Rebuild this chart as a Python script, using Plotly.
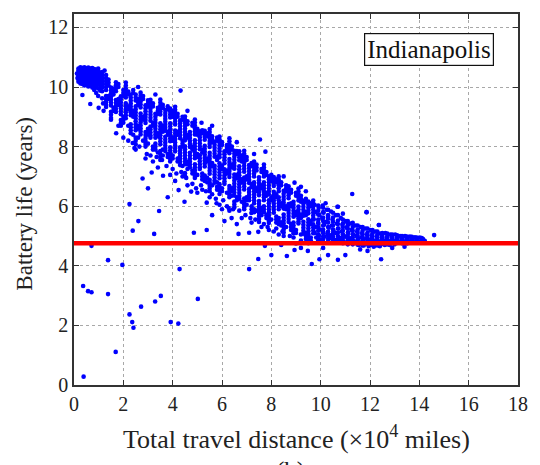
import plotly.graph_objects as go

# Battery life vs. total travel distance, Indianapolis fleet.
# Main band: near-vertical columns of vehicles; each entry of column_y
# holds the battery-life values observed at the distance in column_x.
column_x = [
    0.18, 0.26, 0.34, 0.42, 0.50, 0.58, 0.66, 0.74, 0.82, 0.90, 0.98, 1.06, 1.14,
    1.30, 1.50, 1.70, 1.90, 2.10, 2.30, 2.50, 2.70, 2.90, 3.10, 3.30, 3.50, 3.70, 3.90,
    4.10, 4.30, 4.50, 4.70, 4.90, 5.10, 5.30, 5.50, 5.70, 5.90, 6.10, 6.30, 6.50, 6.70,
    6.90, 7.10, 7.30, 7.50, 7.70, 7.90, 8.10, 8.30, 8.50, 8.70, 8.90, 9.10, 9.30, 9.50,
    9.70, 9.90, 10.10, 10.30, 10.50, 10.70, 10.90, 11.10, 11.30, 11.50, 11.70, 11.90,
    12.10, 12.30, 12.50, 12.70, 12.90, 13.10, 13.30, 13.50, 13.70, 13.90, 14.10,
]
column_y = [
    [10.62, 10.55, 10.48, 10.40, 10.33, 10.25, 10.18],
    [10.66, 10.58, 10.50, 10.43, 10.35, 10.28, 10.20, 10.12],
    [10.64, 10.57, 10.49, 10.41, 10.34, 10.26, 10.18, 10.10, 9.73],
    [10.66, 10.59, 10.52, 10.44, 10.37, 10.29, 10.21, 10.13, 10.05],
    [10.63, 10.56, 10.48, 10.40, 10.33, 10.25, 10.17, 10.09],
    [10.65, 10.58, 10.50, 10.43, 10.35, 10.27, 10.19, 10.11, 10.02],
    [10.62, 10.54, 10.47, 10.39, 10.31, 10.23, 10.15, 10.06, 9.43],
    [10.64, 10.56, 10.49, 10.41, 10.33, 10.25, 10.17, 10.08, 9.98],
    [10.60, 10.52, 10.45, 10.37, 10.29, 10.21, 10.12, 10.04, 9.90],
    [10.58, 10.50, 10.42, 10.34, 10.26, 10.18, 10.09, 9.99, 9.80],
    [10.62, 10.55, 10.46, 10.38, 10.30, 10.21, 10.12, 9.95, 9.70],
    [10.48, 10.40, 10.32, 10.24, 10.15, 10.06, 9.97, 9.88],
    [10.50, 10.42, 10.33, 10.25, 10.16, 10.07, 9.98, 9.86, 9.62],
    [10.40, 10.30, 10.20, 10.10, 10.00, 9.90, 9.70, 9.60, 9.50, 9.41, 9.33],
    [9.98, 9.88, 9.78, 9.68, 9.58, 9.48, 9.38, 9.17, 9.07, 8.96],
    [10.16, 10.06, 9.96, 9.86, 9.56, 9.46, 9.36, 9.26, 9.16],
    [9.69, 9.59, 9.49, 9.39, 9.29, 9.19, 9.09, 8.89, 8.79, 8.70],
    [10.15, 10.05, 9.95, 9.85, 9.75, 9.65, 9.45, 9.35, 9.25, 9.15, 9.05, 8.95],
    [9.75, 9.65, 9.55, 9.45, 9.35, 9.25, 9.15, 9.05, 8.75, 8.65, 8.55, 8.45],
    [9.75, 9.65, 9.55, 9.35, 9.25, 9.15, 9.05, 8.95, 8.85, 8.75, 8.65, 8.55, 8.30, 8.20, 8.08],
    [9.81, 9.71, 9.61, 9.51, 9.41, 9.31, 9.11, 9.01, 8.91, 8.81, 8.71, 8.61, 8.51, 8.41],
    [9.39, 9.29, 9.19, 9.09, 8.99, 8.89, 8.79, 8.49, 8.39, 8.29, 8.19, 8.09, 8.00],
    [9.57, 9.47, 9.37, 9.27, 9.17, 9.07, 8.97, 8.87, 8.67, 8.57, 8.47, 8.37, 8.30],
    [9.10, 9.00, 8.90, 8.80, 8.70, 8.60, 8.50, 8.40, 8.30, 8.10, 8.00, 7.90],
    [9.58, 9.48, 9.38, 9.28, 9.18, 9.08, 8.78, 8.68, 8.58, 8.48, 8.38, 8.28, 8.18, 8.08,
     7.85, 7.75, 7.65, 7.55],
    [9.23, 9.13, 9.03, 8.93, 8.83, 8.73, 8.63, 8.53, 8.33, 8.23, 8.13, 8.03, 7.93, 7.85],
    [9.28, 9.18, 9.08, 8.98, 8.78, 8.68, 8.58, 8.48, 8.38, 8.28, 8.18, 7.98, 7.88, 7.78,
     7.68, 7.58, 7.50],
    [9.34, 9.24, 9.14, 9.04, 8.94, 8.84, 8.74, 8.54, 8.44, 8.34, 8.24, 8.14, 8.04, 7.94, 7.84],
    [8.88, 8.78, 8.68, 8.58, 8.48, 8.38, 8.28, 7.98, 7.88, 7.78, 7.68, 7.58, 7.48, 7.38],
    [9.01, 8.91, 8.81, 8.71, 8.61, 8.51, 8.41, 8.31, 8.21, 8.01, 7.91, 7.81, 7.71, 7.61,
     7.51, 7.41, 7.11, 7.01],
    [8.49, 8.39, 8.29, 8.19, 8.09, 7.99, 7.79, 7.69, 7.59, 7.49, 7.39, 7.30],
    [8.91, 8.81, 8.71, 8.61, 8.51, 8.41, 8.21, 8.11, 8.01, 7.91, 7.81, 7.71, 7.61, 7.41,
     7.31, 7.21, 7.11, 7.01, 6.95],
    [8.51, 8.41, 8.31, 8.21, 8.11, 8.01, 7.91, 7.71, 7.61, 7.51, 7.41, 7.31, 7.25],
    [8.53, 8.43, 8.33, 8.23, 8.03, 7.93, 7.83, 7.73, 7.63, 7.53, 7.43, 7.33, 7.03, 6.93, 6.85],
    [8.59, 8.49, 8.39, 8.29, 8.19, 8.09, 7.99, 7.79, 7.69, 7.59, 7.49, 7.39, 7.29, 7.19,
     7.09, 6.89, 6.79, 6.69, 6.59, 6.50],
    [8.16, 8.06, 7.96, 7.86, 7.76, 7.66, 7.36, 7.26, 7.16, 7.06, 6.96, 6.86, 6.79],
    [8.34, 8.24, 8.14, 8.04, 7.94, 7.84, 7.74, 7.64, 7.44, 7.34, 7.24, 7.14, 7.04, 6.94,
     6.74, 6.64, 6.54, 6.41],
    [7.84, 7.74, 7.64, 7.54, 7.44, 7.24, 7.14, 7.04, 6.94, 6.84, 6.75],
    [8.28, 8.18, 8.08, 7.98, 7.88, 7.78, 7.58, 7.48, 7.38, 7.28, 7.18, 7.08, 6.98, 6.68,
     6.58, 6.48, 6.38, 6.30],
    [7.86, 7.76, 7.66, 7.56, 7.46, 7.36, 7.26, 7.06, 6.96, 6.86, 6.76, 6.66, 6.56, 6.46,
     6.36, 6.16, 6.06, 5.96],
    [7.84, 7.74, 7.64, 7.54, 7.34, 7.24, 7.14, 7.04, 6.94, 6.84, 6.74, 6.64, 6.54, 6.44,
     6.34, 6.25],
    [7.86, 7.76, 7.66, 7.56, 7.46, 7.36, 7.26, 7.16, 6.96, 6.86, 6.76, 6.66, 6.56, 6.26,
     6.16, 6.06, 5.96, 5.90],
    [7.38, 7.28, 7.18, 7.08, 6.98, 6.88, 6.78, 6.58, 6.48, 6.38, 6.28, 6.20],
    [7.50, 7.40, 7.30, 7.20, 7.10, 7.00, 6.80, 6.70, 6.60, 6.50, 6.40, 6.30, 6.20, 6.10,
     5.90, 5.80],
    [6.97, 6.87, 6.77, 6.67, 6.57, 6.47, 6.37, 6.17, 6.07, 5.97, 5.87, 5.77, 5.67, 5.57, 5.47],
    [7.40, 7.30, 7.20, 7.10, 7.00, 6.80, 6.70, 6.60, 6.50, 6.40, 6.30, 6.20, 6.00, 5.90, 5.80],
    [7.00, 6.90, 6.80, 6.70, 6.60, 6.50, 6.40, 6.20, 6.10, 6.00, 5.90, 5.80, 5.70, 5.60,
     5.50, 5.44],
    [6.98, 6.88, 6.78, 6.68, 6.48, 6.38, 6.28, 6.18, 6.08, 5.98, 5.88, 5.78],
    [7.00, 6.90, 6.80, 6.70, 6.60, 6.50, 6.30, 6.20, 6.10, 6.00, 5.90, 5.60, 5.50, 5.40],
    [6.52, 6.42, 6.32, 6.22, 6.12, 6.02, 5.92, 5.72, 5.62, 5.52, 5.42, 5.32, 5.22, 5.12],
    [6.67, 6.57, 6.47, 6.37, 6.27, 6.07, 5.97, 5.87, 5.77, 5.67, 5.57, 5.47],
    [6.15, 6.05, 5.95, 5.85, 5.75, 5.65, 5.45, 5.35, 5.25, 5.15, 5.09],
    [6.59, 6.49, 6.39, 6.29, 6.19, 5.99, 5.89, 5.79, 5.69, 5.59, 5.49, 5.42],
    [6.18, 6.08, 5.98, 5.88, 5.78, 5.68, 5.48, 5.38, 5.28, 5.18, 5.08],
    [6.16, 6.06, 5.96, 5.86, 5.76, 5.56, 5.46, 5.36, 5.26, 5.16, 5.06, 4.96, 4.86, 4.76],
    [6.19, 6.09, 5.99, 5.89, 5.79, 5.69, 5.59, 5.39, 5.29, 5.19, 5.09],
    [6.02, 5.85, 5.72, 5.55, 5.42, 5.30, 5.18, 5.05, 4.93, 4.85],
    [5.95, 5.80, 5.62, 5.50, 5.35, 5.22, 5.10, 4.98, 4.88],
    [5.88, 5.70, 5.58, 5.45, 5.30, 5.15, 5.03, 4.92, 4.82],
    [5.78, 5.62, 5.48, 5.35, 5.22, 5.10, 4.98, 4.88, 4.80],
    [5.98, 5.70, 5.52, 5.40, 5.25, 5.12, 5.00, 4.90, 4.81],
    [5.55, 5.42, 5.30, 5.18, 5.06, 4.95, 4.85, 4.76],
    [5.50, 5.36, 5.24, 5.12, 5.00, 4.90, 4.80, 4.72],
    [5.44, 5.30, 5.18, 5.06, 4.95, 4.85, 4.76],
    [5.35, 5.22, 5.10, 5.00, 4.90, 4.80, 4.71],
    [5.30, 5.18, 5.06, 4.96, 4.86, 4.77, 4.68],
    [5.25, 5.12, 5.02, 4.92, 4.82, 4.73],
    [5.20, 5.08, 4.98, 4.88, 4.79, 4.70],
    [5.15, 5.05, 4.95, 4.85, 4.76, 4.68],
    [5.10, 5.00, 4.91, 4.82, 4.74],
    [5.08, 4.98, 4.88, 4.80, 4.72],
    [5.05, 4.95, 4.86, 4.78],
    [5.02, 4.93, 4.85, 4.77],
    [5.00, 4.91, 4.83, 4.76],
    [4.98, 4.90, 4.82, 4.76],
    [4.97, 4.89, 4.81],
    [4.95, 4.87, 4.80],
    [4.93, 4.85],
]

# Shorter runs of vehicles lying between the main columns
between_x = [
    1.40, 1.60, 1.80, 2.00, 2.20, 2.40, 2.60, 2.80, 3.00, 3.20, 3.40, 3.60, 3.80, 4.00,
    4.20, 4.40, 4.60, 4.80, 5.00, 5.20, 5.40, 5.60, 5.80, 6.00, 6.20, 6.40, 6.60, 6.80,
    7.00, 7.20, 7.40, 7.60, 7.80, 8.00, 8.20, 8.40, 8.60, 8.80, 9.00, 9.20, 9.40, 9.60,
]
between_y = [
    [10.25, 10.15, 10.05, 9.70, 9.60],
    [9.95, 9.85, 9.75, 9.30, 9.20],
    [10.10, 10.00, 9.60, 9.50, 9.40],
    [9.90, 9.80, 9.70, 9.00, 8.90, 8.80],
    [9.85, 9.75, 9.35, 9.25, 8.70],
    [9.90, 9.80, 9.20, 9.10, 9.00, 8.40],
    [9.60, 9.50, 9.40, 8.70, 8.60, 8.30],
    [9.70, 9.60, 9.00, 8.90, 8.20],
    [9.55, 9.45, 9.35, 8.60, 8.50, 8.40, 8.10],
    [9.45, 9.35, 8.80, 8.70, 8.00, 7.90],
    [9.30, 9.20, 9.10, 8.45, 8.35, 7.80],
    [9.40, 9.30, 8.70, 8.60, 8.50, 7.90, 7.70],
    [9.35, 9.25, 8.50, 8.40, 7.75, 7.65],
    [9.20, 9.10, 9.00, 8.30, 8.20, 7.70, 7.60],
    [9.10, 9.00, 8.50, 8.40, 7.60, 7.50],
    [9.00, 8.90, 8.20, 8.10, 8.00, 7.35],
    [8.85, 8.75, 8.40, 8.30, 7.50, 7.40, 7.25],
    [8.80, 8.70, 8.00, 7.90, 7.20, 7.10],
    [8.60, 8.50, 8.40, 7.75, 7.65, 7.05],
    [8.55, 8.45, 7.90, 7.80, 7.10, 7.00, 6.90],
    [8.45, 8.35, 7.60, 7.50, 6.95, 6.80],
    [8.35, 8.25, 8.15, 7.45, 7.35, 6.70],
    [8.30, 8.20, 7.65, 7.55, 6.80, 6.65, 6.55],
    [8.15, 8.05, 7.35, 7.25, 6.60, 6.50],
    [8.05, 7.95, 7.85, 7.20, 7.10, 6.45],
    [8.00, 7.90, 7.40, 7.30, 6.60, 6.50, 6.35],
    [7.85, 7.75, 7.05, 6.95, 6.30, 6.20],
    [7.70, 7.60, 7.50, 6.90, 6.80, 6.15],
    [7.65, 7.55, 7.00, 6.90, 6.30, 6.20, 6.05],
    [7.45, 7.35, 6.75, 6.65, 6.00, 5.90],
    [7.40, 7.30, 7.20, 6.60, 6.50, 5.85],
    [7.25, 7.15, 6.70, 6.60, 5.95, 5.85, 5.70],
    [7.15, 7.05, 6.45, 6.35, 5.70, 5.60],
    [7.05, 6.95, 6.85, 6.30, 6.20, 5.55],
    [6.90, 6.80, 6.40, 6.30, 5.65, 5.55, 5.45],
    [6.80, 6.70, 6.10, 6.00, 5.45, 5.35],
    [6.70, 6.60, 6.50, 6.00, 5.90, 5.30],
    [6.55, 6.45, 6.10, 6.00, 5.40, 5.30, 5.20],
    [6.45, 6.35, 5.80, 5.70, 5.20, 5.10],
    [6.35, 6.25, 6.15, 5.70, 5.60, 5.05],
    [6.25, 6.15, 5.80, 5.70, 5.10, 5.00, 4.90],
    [6.10, 6.00, 5.50, 5.40, 4.95, 4.85],
]

# Long-distance vehicles levelling off towards the replacement threshold
tail_x = [
    9.75, 9.78, 9.72, 9.80, 9.76, 9.82, 9.92, 9.95, 9.90, 9.97, 9.93, 9.99,
    10.08, 10.12, 10.06, 10.14, 10.10, 10.16, 10.05, 10.25, 10.30, 10.22, 10.33, 10.27, 10.36,
    10.42, 10.48, 10.45, 10.52, 10.40, 10.55, 10.50, 10.62, 10.68, 10.66, 10.72, 10.60, 10.75, 10.70,
    10.82, 10.88, 10.85, 10.92, 10.80, 10.95, 11.02, 11.08, 11.05, 11.12, 11.00, 11.15, 11.10,
    11.22, 11.28, 11.25, 11.32, 11.20, 11.35, 11.30, 11.42, 11.48, 11.45, 11.52, 11.40, 11.55,
    11.62, 11.68, 11.65, 11.72, 11.60, 11.75, 11.86, 11.82, 11.88, 11.85, 11.92, 11.80, 11.95,
    12.02, 12.08, 12.05, 12.12, 12.00, 12.15, 12.22, 12.28, 12.25, 12.32, 12.20,
    12.36, 12.42, 12.48, 12.45, 12.52, 12.40, 12.62, 12.68, 12.65, 12.72, 12.60,
    12.82, 12.88, 12.85, 12.92, 12.80, 13.02, 13.08, 13.05, 13.12, 13.00,
    13.22, 13.28, 13.25, 13.32, 13.42, 13.48, 13.45, 13.52, 13.62, 13.68, 13.65, 13.72,
    13.82, 13.88, 13.85, 14.02, 14.08, 14.05, 14.15, 14.22, 14.60,
]
tail_y = [
    6.05, 5.80, 5.55, 5.30, 5.10, 4.95, 5.95, 5.70, 5.45, 5.22, 5.02, 4.88,
    6.02, 5.78, 5.60, 5.38, 5.15, 4.98, 4.85, 5.88, 5.65, 5.48, 5.28, 5.08, 4.92,
    5.82, 5.55, 5.35, 5.18, 5.02, 4.88, 4.80, 5.70, 5.98, 5.42, 5.25, 5.10, 4.95, 4.84,
    5.60, 5.38, 5.15, 5.02, 4.90, 4.80, 5.50, 5.45, 5.28, 5.10, 4.98, 4.88, 4.76,
    5.42, 6.41, 5.20, 5.05, 4.92, 4.82, 4.72, 5.35, 5.15, 5.00, 4.90, 4.80, 4.70,
    5.30, 5.10, 4.96, 4.86, 4.76, 4.68, 5.80, 5.25, 5.05, 4.92, 4.82, 4.74, 4.66,
    5.20, 5.02, 4.90, 4.80, 4.72, 4.64, 5.15, 4.98, 4.86, 4.76, 4.68,
    5.37, 5.08, 4.95, 4.84, 4.74, 4.66, 5.10, 4.96, 4.86, 4.78, 4.70,
    5.05, 4.94, 4.84, 4.76, 4.70, 5.05, 4.92, 4.84, 4.78, 4.72,
    5.00, 4.92, 4.82, 4.76, 5.00, 4.90, 4.82, 4.76, 4.98, 4.90, 4.82, 4.78,
    4.96, 4.88, 4.80, 4.95, 4.86, 4.80, 4.90, 4.84, 5.03,
]

# Vehicles scattered just below and above the main band
fringe_x = [
    1.80, 2.20, 2.45, 2.65, 2.95, 3.20, 3.35, 3.75, 4.00, 4.15, 4.35, 4.55, 4.80, 4.95,
    5.15, 5.35, 5.60, 5.75, 6.05, 6.20, 6.45, 6.70, 6.95, 7.15, 7.35, 7.70, 7.85, 8.20,
    8.45, 8.75, 3.00, 3.80, 5.60, 6.10,
    2.60, 3.30, 4.60, 5.60, 6.60, 7.30, 8.50, 9.40, 10.20, 10.90,
]
fringe_y = [
    8.70, 8.20, 7.95, 8.00, 7.75, 7.50, 7.65, 7.35, 7.25, 7.10, 7.15, 6.95, 6.75, 6.60,
    6.70, 6.50, 6.40, 6.25, 6.20, 6.00, 5.90, 5.85, 5.70, 5.60, 5.55, 5.40, 5.30, 5.25,
    5.15, 5.00, 6.60, 6.30, 5.70, 5.50,
    10.00, 9.75, 9.20, 8.70, 8.15, 7.75, 7.00, 6.50, 6.10, 5.75,
]

# Isolated vehicles away from the main trend
stray_x = [
    0.37, 0.57, 0.71, 0.71, 1.38, 1.38, 1.96, 1.69, 0.39, 2.25, 2.36, 2.41, 2.72, 3.29,
    3.52, 3.92, 4.23, 4.28, 5.02, 7.10, 7.47, 2.38, 3.25, 4.86, 5.38, 6.67, 7.10, 7.47,
    7.74, 2.25, 3.45, 2.61, 2.78, 3.15, 3.61, 4.24, 4.48, 4.75, 5.38, 5.78, 1.71, 2.38,
    3.57, 6.39, 6.27, 7.19, 4.32, 5.17, 7.54, 7.76, 8.94, 9.20, 11.86, 12.36,
    2.90, 3.40, 3.90, 4.10, 4.60, 5.00, 5.50, 5.90, 6.30, 6.80, 7.20, 7.60, 8.10, 8.50,
    8.90, 9.20, 2.00, 1.50, 1.20, 1.00, 6.00, 6.60, 7.90, 8.30, 5.20, 4.40, 3.10, 2.50,
    8.00, 8.63, 8.94, 9.48, 9.64, 9.95, 10.30, 10.70, 11.00, 12.45, 9.20, 11.60, 12.90,
    13.40, 10.10, 11.90, 8.40, 9.00, 0.12, 0.14, 1.24, 1.18,
]
stray_y = [
    3.32, 3.15, 3.11, 4.67, 4.19, 3.05, 4.03, 1.11, 0.28, 2.37, 2.11, 1.92, 2.63, 2.80,
    2.99, 2.11, 2.06, 3.89, 2.89, 3.89, 4.23, 5.18, 5.07, 5.11, 5.20, 5.07, 5.11, 5.14,
    4.67, 6.07, 5.84, 5.50, 6.93, 7.13, 7.02, 6.54, 6.15, 6.49, 6.12, 6.10, 8.45, 8.12,
    7.55, 5.60, 5.94, 5.77, 9.88, 8.80, 8.24, 7.83, 6.79, 6.65, 5.80, 5.37,
    7.60, 7.30, 7.05, 6.85, 6.70, 6.45, 6.30, 6.05, 5.85, 5.60, 5.45, 5.30, 5.15, 5.00,
    4.95, 4.85, 8.30, 8.90, 9.20, 9.30, 5.90, 5.40, 5.20, 5.05, 6.55, 7.00, 7.70, 7.90,
    4.36, 4.33, 4.53, 4.50, 4.06, 4.22, 4.36, 4.20, 4.36, 4.22, 4.60, 4.55, 4.60,
    4.64, 4.60, 4.50, 4.70, 4.75, 10.45, 10.30, 10.55, 9.45,
]

# End-of-life threshold (years)
threshold_life = 4.76

x_ticks = [0, 2, 4, 6, 8, 10, 12, 14, 16, 18]
y_ticks = [0, 2, 4, 6, 8, 10, 12]
city_label = "Indianapolis"

SERIF = "Liberation Serif"

# Flatten the column data into point lists
dist = []
life = []
for cols_x, cols_y in ((column_x, column_y), (between_x, between_y)):
    for cx, ys in zip(cols_x, cols_y):
        for yv in ys:
            dist.append(cx)
            life.append(yv)
dist += tail_x + fringe_x + stray_x
life += tail_y + fringe_y + stray_y

fig = go.Figure()
fig.add_trace(go.Scatter(
    x=dist, y=life, mode="markers",
    marker=dict(color="#0000ff", size=4.6, line=dict(width=0)),
    hoverinfo="x+y", showlegend=False,
))

fig.add_shape(
    type="line", xref="paper", x0=0, x1=1, yref="y",
    y0=threshold_life, y1=threshold_life,
    line=dict(color="#ff0000", width=4.5), layer="above",
)

axis_common = dict(
    showline=True, linecolor="#333333", linewidth=1.5, mirror="ticks",
    ticks="inside", ticklen=5, tickwidth=1, tickcolor="#333333",
    showgrid=True, gridcolor="#a8a8a8", gridwidth=1, griddash="dot",
    zeroline=False,
    tickfont=dict(family=SERIF, size=20, color="#222222"),
)

fig.update_xaxes(range=[0, 18], tickvals=x_ticks, **axis_common)
fig.update_yaxes(range=[0, 12.45], tickvals=y_ticks, **axis_common)

fig.add_annotation(
    xref="paper", yref="paper", x=0.5, y=-0.1425, yanchor="middle",
    text="Total travel distance (×10<sup>4</sup> miles)", showarrow=False,
    font=dict(family=SERIF, size=26, color="#222222"),
)
fig.add_annotation(
    xref="paper", yref="paper", x=-0.1116, y=0.49, xanchor="center", yanchor="middle",
    text="Battery life (years)", textangle=-90, showarrow=False,
    font=dict(family=SERIF, size=23, color="#222222"),
)
fig.add_annotation(
    xref="paper", yref="paper", x=0.487, y=-0.19, yanchor="top",
    text="(b)", showarrow=False,
    font=dict(family=SERIF, size=25, color="#222222"),
)
fig.add_annotation(
    xref="paper", yref="paper", x=0.799, y=0.903, xanchor="center", yanchor="middle",
    text=city_label, showarrow=False,
    font=dict(family=SERIF, size=25, color="#111111"),
    bgcolor="white", bordercolor="#111111", borderwidth=1.2, borderpad=2,
)

fig.update_layout(
    width=540, height=465,
    margin=dict(l=74, r=18, t=13, b=80),
    paper_bgcolor="white", plot_bgcolor="white",
    showlegend=False,
)

fig.write_html("out.html")
